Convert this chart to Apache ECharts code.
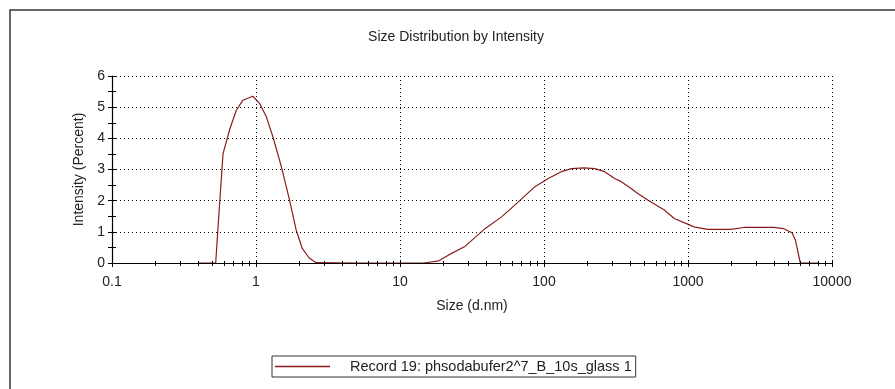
<!DOCTYPE html>
<html>
<head>
<meta charset="utf-8">
<script src="https://cdn.jsdelivr.net/npm/echarts@6/dist/echarts.min.js"></script>
<style>
html,body{margin:0;padding:0;background:#fff;}
#main{width:895px;height:389px;}
</style>
</head>
<body>
<div id="main"></div>
<script>
// size (d.nm) and intensity (%)
var sizes = [0.4, 0.525, 0.545, 0.59, 0.658, 0.73, 0.81, 0.95, 1.06, 1.18, 1.31, 1.5, 1.71, 1.9, 2.09, 2.34, 2.61,
    5, 10, 14.6, 18.6, 21.8, 28.4, 39.1, 50.8, 66.4, 86.5, 107, 132, 155, 190, 225, 264, 309, 344, 403, 448, 525,
    685, 803, 966, 1103, 1365, 1978, 2445, 3943, 4623, 5277, 5565, 6025, 8100];
var intensity = [0, 0, 1.16, 3.5, 4.3, 4.9, 5.22, 5.35, 5.12, 4.69, 4.05, 3.09, 2.02, 1.06, 0.48, 0.16, 0.01,
    0, 0, 0, 0.07, 0.26, 0.54, 1.11, 1.48, 1.96, 2.45, 2.71, 2.93, 3.03, 3.05, 3.03, 2.93, 2.71, 2.61, 2.39, 2.23, 2.02,
    1.7, 1.43, 1.27, 1.16, 1.08, 1.08, 1.14, 1.14, 1.1, 0.97, 0.74, 0, 0];
var minorX = [0.2,0.3,0.4,0.5,0.6,0.7,0.8,0.9, 2,3,4,5,6,7,8,9, 20,30,40,50,60,70,80,90,
    200,300,400,500,600,700,800,900, 2000,3000,4000,5000,6000,7000,8000,9000];
var seriesName = 'Record 19: phsodabufer2^7_B_10s_glass 1';

var font = 'Liberation Sans, Arial, sans-serif';
var pts = [];
for (var i = 0; i < sizes.length; i++) pts.push([sizes[i], intensity[i]]);

var myChart = echarts.init(document.getElementById('main'));
var dotted = {color:'#000', width:1, type:[1,3]};
var xBase = {type:'log', logBase:10, min:0.1, max:10000, gridIndex:0};
var yBase = {type:'value', min:0, max:6, interval:1, gridIndex:0};
myChart.setOption({
    animation:false,
    title:{
        text:'Size Distribution by Intensity',
        left:451, top:25, textAlign:'center',
        textStyle:{fontFamily:font, fontSize:14, fontWeight:'normal', color:'#222'}
    },
    graphic:[{
        type:'polyline', silent:true,
        shape:{points:[[10,389],[10,10],[895,10]]},
        style:{stroke:'#333', lineWidth:1.5, fill:null}
    }],
    legend:{
        left:272, top:356,
        padding:[3,4,3,3],
        borderColor:'#333', borderWidth:1,
        itemWidth:55, itemHeight:1.5, icon:'rect',
        textStyle:{fontFamily:font, fontSize:14.5, color:'#222', padding:[0,0,0,15]},
        data:[seriesName]
    },
    grid:{left:112, right:63, top:76, bottom:126},
    xAxis:[
        Object.assign({}, xBase, {
            z:5,
            name:'Size (d.nm)', nameLocation:'middle', nameGap:36,
            nameTextStyle:{fontFamily:font, fontSize:14, color:'#222'},
            axisLine:{lineStyle:{color:'#000', width:1.2}},
            axisTick:{length:4, lineStyle:{color:'#000'}},
            axisLabel:{fontFamily:font, fontSize:14, color:'#222', margin:12,
                formatter:function(v){ return String(v); }},
            splitLine:{show:true, lineStyle:dotted}
        }),
        Object.assign({}, xBase, {
            z:5, position:'bottom',
            axisLine:{show:false},
            axisTick:{show:true, length:3, inside:true, lineStyle:{color:'#000'}},
            axisLabel:{show:false}, splitLine:{show:false}
        }),
        Object.assign({}, xBase, {
            z:5, position:'bottom',
            axisLine:{show:false},
            axisTick:{show:true, length:3, customValues:minorX, lineStyle:{color:'#000'}},
            axisLabel:{show:false}, splitLine:{show:false}
        }),
        Object.assign({}, xBase, {
            z:5, position:'bottom',
            axisLine:{show:false},
            axisTick:{show:true, length:2, inside:true, customValues:minorX, lineStyle:{color:'#000'}},
            axisLabel:{show:false}, splitLine:{show:false}
        })
    ],
    yAxis:[
        Object.assign({}, yBase, {
            z:5,
            name:'Intensity (Percent)', nameLocation:'middle', nameGap:21,
            nameTextStyle:{fontFamily:font, fontSize:14, color:'#222'},
            axisLine:{show:true, lineStyle:{color:'#000', width:1.2}},
            axisTick:{show:true, length:4, lineStyle:{color:'#000'}},
            minorTick:{show:true, splitNumber:2, length:4, lineStyle:{color:'#000'}},
            axisLabel:{fontFamily:font, fontSize:14, color:'#222', margin:7},
            splitLine:{show:true, lineStyle:dotted}
        }),
        Object.assign({}, yBase, {
            z:5, position:'left',
            axisLine:{show:false},
            axisTick:{show:true, length:4, inside:true, lineStyle:{color:'#000'}},
            minorTick:{show:true, splitNumber:2, length:4, lineStyle:{color:'#000'}},
            axisLabel:{show:false}, splitLine:{show:false}
        })
    ],
    series:[{
        name:seriesName,
        type:'line',
        xAxisIndex:0, yAxisIndex:0,
        data:pts,
        showSymbol:false,
        smooth:false,
        color:'#8b1c1c',
        lineStyle:{color:'#8b1c1c', width:1.2}
    }]
});
</script>
</body>
</html>
